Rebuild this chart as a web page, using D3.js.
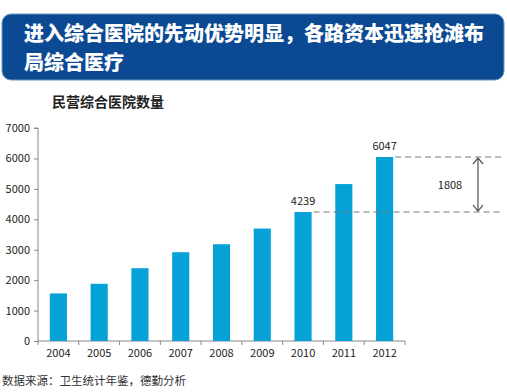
<!DOCTYPE html>
<html lang="zh">
<head>
<meta charset="utf-8">
<script src="https://cdn.jsdelivr.net/npm/d3@7"></script>
<style>
  body { margin: 0; background: #fff; }
  svg text { font-family: "Noto Sans CJK SC", "Open Sans", sans-serif; }
</style>
</head>
<body>
<script>
var years = ["2004","2005","2006","2007","2008","2009","2010","2011","2012"];
var counts = [1564, 1880, 2393, 2918, 3180, 3695, 4239, 5157, 6047];
var yTicks = [0,1000,2000,3000,4000,5000,6000,7000];
var titleLines = ["进入综合医院的先动优势明显，各路资本迅速抢滩布", "局综合医疗"];
var labeled = ["2010","2012"];

var width = 507, height = 392;
var svg = d3.select("body").append("svg").attr("width", width).attr("height", height);

// title banner
svg.append("rect").attr("x", 2).attr("y", 14).attr("width", 502).attr("height", 66)
  .attr("rx", 9).attr("fill", "#0b4a93").attr("stroke", "#6f95c4").attr("stroke-width", 1);
svg.selectAll("text.title").data(titleLines).enter().append("text")
  .attr("x", 24).attr("y", function(d, i){ return 41 + i * 29; })
  .attr("fill", "#fff").attr("font-size", 20).attr("font-weight", "900")
  .text(function(d){ return d; });

svg.append("text").attr("x", 52).attr("y", 107).attr("font-size", 14)
  .attr("font-weight", "bold").attr("fill", "#222").text("民营综合医院数量");

var x = d3.scaleBand().domain(years).range([38, 405]).paddingInner(0.58).paddingOuter(0.29);
var y = d3.scaleLinear().domain([0, 7000]).range([341, 128]);

var xAxis = svg.append("g").attr("transform", "translate(0,341)")
  .call(d3.axisBottom(x).tickSize(0).tickPadding(8));
xAxis.select(".domain").attr("stroke", "#888").attr("d", "M38,0H405");
xAxis.selectAll("text").attr("font-size", 11).attr("fill", "#222")
  .attr("font-family", "'Open Sans', sans-serif");
// boundary ticks between categories
var step = (405 - 38) / years.length;
xAxis.selectAll("line.sep").data(d3.range(years.length + 1)).enter().append("line")
  .attr("class", "sep").attr("x1", function(i){ return 38 + i * step; })
  .attr("x2", function(i){ return 38 + i * step; })
  .attr("y1", 0).attr("y2", 4).attr("stroke", "#888");

var yAxis = svg.append("g").attr("transform", "translate(38,0)")
  .call(d3.axisLeft(y).tickValues(yTicks).tickFormat(d3.format("d")).tickSize(4).tickPadding(4));
yAxis.select(".domain").attr("stroke", "#888").attr("d", "M-4,128H0V341");
yAxis.selectAll("line").attr("stroke", "#888");
yAxis.selectAll("text").attr("font-size", 11).attr("fill", "#222")
  .attr("font-family", "'Open Sans', sans-serif");

svg.append("g").selectAll("rect").data(years).enter().append("rect")
  .attr("x", function(d){ return x(d); })
  .attr("width", x.bandwidth())
  .attr("y", function(d, i){ return y(counts[i]); })
  .attr("height", function(d, i){ return 341 - y(counts[i]); })
  .attr("fill", "#05a2d8");

svg.append("g").selectAll("text").data(labeled).enter().append("text")
  .attr("x", function(d){ return x(d) + x.bandwidth() / 2; })
  .attr("y", function(d){ return y(counts[years.indexOf(d)]) - 7; })
  .attr("text-anchor", "middle").attr("font-size", 11).attr("fill", "#222")
  .attr("font-family", "'Open Sans', sans-serif")
  .text(function(d){ return counts[years.indexOf(d)]; });

// difference annotation
var vHi = counts[years.indexOf("2012")], vLo = counts[years.indexOf("2010")];
svg.append("line").attr("x1", x("2012") + x.bandwidth() + 2).attr("x2", 503)
  .attr("y1", y(vHi)).attr("y2", y(vHi))
  .attr("stroke", "#777").attr("stroke-dasharray", "6,4");
svg.append("line").attr("x1", x("2010") + x.bandwidth() + 2).attr("x2", 503)
  .attr("y1", y(vLo)).attr("y2", y(vLo))
  .attr("stroke", "#777").attr("stroke-dasharray", "6,4");

var ax = 478;
svg.append("path")
  .attr("d", "M" + ax + "," + (y(vHi) + 1) + "V" + (y(vLo) - 1) +
    "M" + (ax - 5) + "," + (y(vHi) + 7) + "L" + ax + "," + (y(vHi) + 1) + "L" + (ax + 5) + "," + (y(vHi) + 7) +
    "M" + (ax - 5) + "," + (y(vLo) - 7) + "L" + ax + "," + (y(vLo) - 1) + "L" + (ax + 5) + "," + (y(vLo) - 7))
  .attr("fill", "none").attr("stroke", "#555").attr("stroke-width", 1.2);
svg.append("text").attr("x", 450).attr("y", (y(vHi) + y(vLo)) / 2 + 4)
  .attr("text-anchor", "middle").attr("font-size", 11).attr("fill", "#222")
  .attr("font-family", "'Open Sans', sans-serif").text(vHi - vLo);

svg.append("text").attr("x", 2).attr("y", 385).attr("font-size", 11.5)
  .attr("fill", "#333").text("数据来源：卫生统计年鉴，德勤分析");
</script>
</body>
</html>
